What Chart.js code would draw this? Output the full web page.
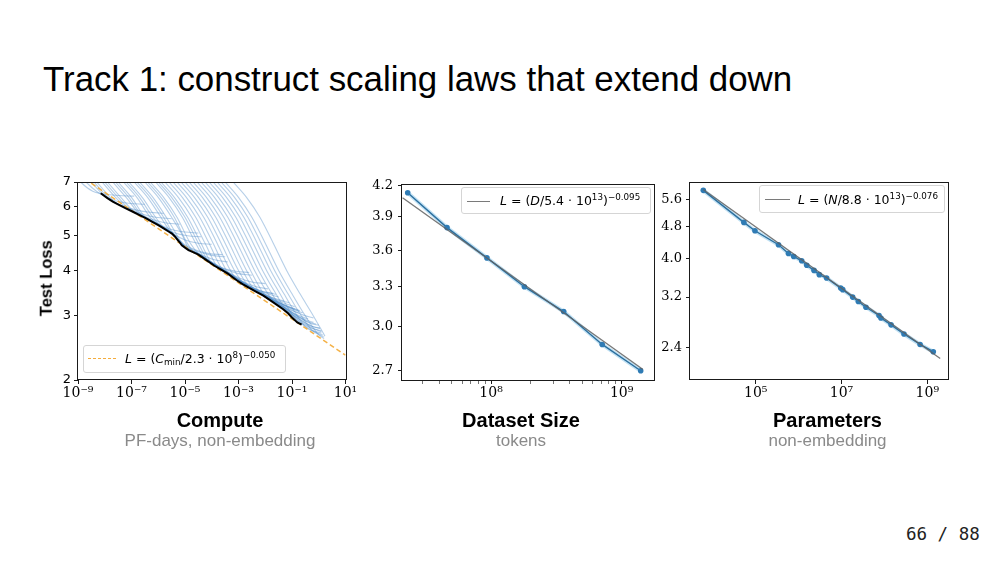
<!DOCTYPE html>
<html>
<head>
<meta charset="utf-8">
<title>Track 1: construct scaling laws that extend down</title>
<script src="https://cdn.jsdelivr.net/npm/chart.js@4.4.1/dist/chart.umd.min.js"></script>
<style>
html,body{margin:0;padding:0;background:#fff;}
body{width:1000px;height:563px;position:relative;overflow:hidden;font-family:"Liberation Sans",Arial,Helvetica,sans-serif;}
.a{position:absolute;white-space:nowrap;line-height:1;}
#title{left:43px;top:62px;font-size:34.9px;color:#000;}
.xl{font-weight:bold;font-size:20px;color:#000;text-align:center;width:240px;top:410px;}
.xs{font-size:17px;color:#8a8a8a;text-align:center;width:240px;top:431.5px;}
#ylab{font-weight:bold;font-size:16.5px;width:120px;text-align:center;left:-14.5px;top:270px;transform:rotate(-90deg);}
#page{left:906px;top:526px;font-family:"DejaVu Sans Mono",monospace;font-size:17.5px;color:#222;}
.cv{position:absolute;}
.leg{position:absolute;background:rgba(255,255,255,0.85);border:1px solid #d5d5d5;border-radius:3px;box-sizing:border-box;}
.leg .s{position:absolute;height:0;}
.leg .t{position:absolute;font-family:"DejaVu Sans",sans-serif;font-size:12.5px;line-height:1;white-space:nowrap;color:#000;}
.leg sup{font-size:70%;position:relative;top:-0.55em;vertical-align:baseline;line-height:0;}
.leg sub{font-size:70%;position:relative;top:0.22em;vertical-align:baseline;line-height:0;}
</style>
</head>
<body>
<div id="title" class="a">Track 1: construct scaling laws that extend down</div>

<canvas id="c1" class="cv" width="360" height="240" style="left:0px;top:170px;width:360px;height:240px;"></canvas>
<canvas id="c2" class="cv" width="320" height="240" style="left:350px;top:170px;width:320px;height:240px;"></canvas>
<canvas id="c3" class="cv" width="330" height="240" style="left:640px;top:170px;width:330px;height:240px;"></canvas>

<div class="leg" style="left:83px;top:345px;width:203px;height:28px;">
  <div class="s" style="left:4px;top:12px;width:28px;border-top:1.5px dashed rgba(243,168,50,0.95);"></div>
  <div class="t" style="left:41px;top:7px;"><i>L</i> = (<i>C</i><sub>min</sub>/2.3 · 10<sup>8</sup>)<sup>&minus;0.050</sup></div>
</div>
<div class="leg" style="left:461px;top:187px;width:190px;height:27px;">
  <div class="s" style="left:5px;top:13px;width:23px;border-top:1.5px solid #7a7a7a;"></div>
  <div class="t" style="left:38px;top:7px;"><i>L</i> = (<i>D</i>/5.4 · 10<sup>13</sup>)<sup>&minus;0.095</sup></div>
</div>
<div class="leg" style="left:759px;top:185px;width:186px;height:27.5px;">
  <div class="s" style="left:5px;top:13px;width:25px;border-top:1.5px solid #7a7a7a;"></div>
  <div class="t" style="left:38px;top:7.5px;"><i>L</i> = (<i>N</i>/8.8 · 10<sup>13</sup>)<sup>&minus;0.076</sup></div>
</div>

<div id="ylab" class="a">Test Loss</div>
<div class="a xl" style="left:100px;">Compute</div>
<div class="a xs" style="left:100px;">PF-days, non-embedding</div>
<div class="a xl" style="left:401px;">Dataset Size</div>
<div class="a xs" style="left:401px;">tokens</div>
<div class="a xl" style="left:707.5px;">Parameters</div>
<div class="a xs" style="left:707.5px;">non-embedding</div>
<div id="page" class="a">66 / 88</div>

<script>
// ---------------- data: Compute panel (x stored as log10 of PF-days) ----------------
const computeTicks = [1e-9, 1e-7, 1e-5, 1e-3, 1e-1, 1e1];
const computeLossTicks = [2, 3, 4, 5, 6, 7];
const computeFrontier = [
  [-8.15,6.52],[-7.9,6.32],[-7.7,6.18],[-7.45,6.05],[-7.23,5.93],[-6.95,5.8],[-6.7,5.68],[-6.45,5.56],
  [-6.24,5.45],[-6.0,5.33],[-5.8,5.22],[-5.6,5.11],[-5.49,5.05],[-5.38,4.96],[-5.3,4.88],[-5.2,4.78],
  [-5.12,4.69],[-5.0,4.62],[-4.87,4.55],[-4.7,4.49],[-4.5,4.42],[-4.2,4.27],[-3.9,4.12],[-3.65,4.02],
  [-3.4,3.92],[-3.07,3.76],[-2.85,3.67],[-2.6,3.58],[-2.35,3.5],[-2.07,3.41],[-1.7,3.27],[-1.33,3.13],
  [-1.15,3.05],[-1.0,2.97],[-0.8,2.88],[-0.64,2.84]
];
const computeFit = [[-9.0,7.35],[1.0,2.34]];
const trainingCurves = [
  [[-9.2,7.45],[-8.9,7.0],[-8.45,6.6],[-8.1,6.5],[-7.5,6.43],[-6.9,6.4]],
  [[-9.0,7.45],[-8.7,7.0],[-8.25,6.55],[-8.0,6.4],[-7.6,6.22],[-7.1,6.12],[-6.5,6.08]],
  [[-8.8,7.45],[-8.5,7.0],[-8.0,6.4],[-7.7,6.18],[-7.3,6.0],[-6.8,5.86],[-6.3,5.78],[-5.8,5.74]],
  [[-8.7,7.45],[-8.4,7.0],[-7.9,6.38],[-7.55,6.12],[-7.1,5.92],[-6.6,5.72],[-6.1,5.6],[-5.5,5.55]],
  [[-8.6,7.45],[-8.3,7.0],[-7.8,6.35],[-7.6,6.13],[-7.2,5.95],[-6.8,5.75],[-6.3,5.55],[-5.8,5.42],[-5.2,5.36]],
  [[-8.4,7.45],[-8.1,7.0],[-7.6,6.35],[-7.2,5.96],[-6.8,5.74],[-6.4,5.52],[-6.0,5.36],[-5.5,5.18],[-5.0,5.1],[-4.5,5.07]],
  [[-8.3,7.45],[-8.0,7.0],[-7.5,6.35],[-7.05,5.88],[-6.6,5.66],[-6.2,5.45],[-5.8,5.25],[-5.4,5.08],[-4.9,4.98],[-4.4,4.95]],
  [[-8.2,7.45],[-7.9,7.0],[-7.4,6.35],[-6.9,5.8],[-6.5,5.6],[-6.1,5.4],[-5.7,5.2],[-5.4,5.02],[-5.0,4.85],[-4.5,4.75],[-4.0,4.72]],
  [[-8.0,7.45],[-7.7,7.0],[-7.2,6.35],[-6.7,5.72],[-6.3,5.5],[-5.9,5.3],[-5.5,5.08],[-5.25,4.88],[-5.0,4.7],[-4.6,4.55],[-4.1,4.45],[-3.6,4.42]],
  [[-7.9,7.45],[-7.6,7.0],[-7.1,6.35],[-6.6,5.66],[-6.2,5.46],[-5.8,5.25],[-5.45,5.05],[-5.2,4.8],[-4.9,4.62],[-4.5,4.5],[-4.0,4.4],[-3.5,4.36]],
  [[-7.8,7.45],[-7.5,7.0],[-7.0,6.35],[-6.5,5.62],[-6.1,5.42],[-5.7,5.2],[-5.35,4.98],[-5.1,4.72],[-4.8,4.55],[-4.4,4.42],[-3.9,4.28],[-3.4,4.22]],
  [[-7.6,7.45],[-7.3,7.0],[-6.8,6.35],[-6.3,5.6],[-5.9,5.3],[-5.5,5.08],[-5.2,4.8],[-4.95,4.6],[-4.6,4.47],[-4.1,4.25],[-3.6,4.06],[-3.1,3.98],[-2.6,3.95]],
  [[-7.5,7.45],[-7.2,7.0],[-6.7,6.35],[-6.2,5.6],[-5.85,5.27],[-5.5,5.08],[-5.2,4.8],[-4.9,4.59],[-4.5,4.45],[-4.0,4.22],[-3.5,4.03],[-3.0,3.92],[-2.5,3.88]],
  [[-7.4,7.45],[-7.1,7.0],[-6.6,6.35],[-6.1,5.6],[-5.8,5.25],[-5.5,5.08],[-5.2,4.8],[-4.9,4.59],[-4.5,4.45],[-4.0,4.2],[-3.5,4.0],[-3.0,3.82],[-2.5,3.72],[-2.0,3.68]],
  [[-7.2,7.45],[-6.9,7.0],[-6.4,6.35],[-5.9,5.6],[-5.6,5.18],[-5.35,4.96],[-5.15,4.74],[-4.85,4.56],[-4.4,4.4],[-3.9,4.15],[-3.4,3.95],[-2.9,3.75],[-2.4,3.62],[-1.9,3.56]],
  [[-7.1,7.45],[-6.8,7.0],[-6.3,6.35],[-5.8,5.6],[-5.45,5.05],[-5.22,4.82],[-5.0,4.65],[-4.6,4.48],[-4.1,4.25],[-3.6,4.03],[-3.1,3.8],[-2.6,3.62],[-2.1,3.5],[-1.6,3.44]],
  [[-7.0,7.45],[-6.7,7.0],[-6.2,6.35],[-5.7,5.6],[-5.4,5.15],[-5.2,4.85],[-5.0,4.66],[-4.7,4.5],[-4.2,4.3],[-3.7,4.06],[-3.2,3.86],[-2.7,3.66],[-2.2,3.52],[-1.7,3.46]],
  [[-6.8,7.45],[-6.5,7.0],[-6.0,6.35],[-5.5,5.6],[-5.1,5.0],[-4.85,4.57],[-4.5,4.45],[-4.0,4.2],[-3.5,3.98],[-3.0,3.77],[-2.5,3.6],[-2.0,3.47],[-1.5,3.38]],
  [[-6.7,7.45],[-6.4,7.0],[-5.9,6.35],[-5.4,5.6],[-4.95,4.8],[-4.7,4.52],[-4.3,4.35],[-3.8,4.1],[-3.3,3.89],[-2.8,3.68],[-2.3,3.52],[-1.8,3.38],[-1.3,3.3]],
  [[-6.6,7.45],[-6.3,7.0],[-5.8,6.35],[-5.3,5.6],[-4.8,4.75],[-4.5,4.45],[-4.1,4.24],[-3.6,4.03],[-3.1,3.8],[-2.6,3.62],[-2.1,3.47],[-1.6,3.33],[-1.1,3.26]],
  [[-6.4,7.45],[-6.1,7.0],[-5.6,6.35],[-5.1,5.6],[-4.6,4.75],[-4.3,4.35],[-3.9,4.15],[-3.4,3.96],[-2.9,3.75],[-2.4,3.56],[-1.9,3.4],[-1.4,3.27],[-0.9,3.18]],
  [[-6.3,7.45],[-6.0,7.0],[-5.5,6.35],[-5.0,5.6],[-4.5,4.75],[-4.15,4.27],[-3.75,4.08],[-3.25,3.87],[-2.75,3.66],[-2.25,3.49],[-1.75,3.33],[-1.25,3.2],[-0.75,3.1]],
  [[-6.2,7.45],[-5.9,7.0],[-5.4,6.35],[-4.9,5.6],[-4.4,4.75],[-4.0,4.18],[-3.6,4.02],[-3.1,3.8],[-2.6,3.6],[-2.1,3.44],[-1.6,3.3],[-1.1,3.16],[-0.6,3.06]],
  [[-6.05,7.45],[-5.75,7.0],[-5.25,6.35],[-4.75,5.6],[-4.25,4.75],[-3.8,4.1],[-3.4,3.93],[-2.9,3.72],[-2.4,3.54],[-1.9,3.38],[-1.4,3.24],[-0.9,3.13]],
  [[-5.9,7.45],[-5.6,7.0],[-5.1,6.35],[-4.6,5.6],[-4.1,4.75],[-3.6,4.02],[-3.2,3.84],[-2.7,3.64],[-2.2,3.48],[-1.7,3.32],[-1.2,3.2],[-0.7,3.1]],
  [[-5.75,7.45],[-5.45,7.0],[-4.95,6.35],[-4.45,5.6],[-3.95,4.75],[-3.45,4.0],[-3.2,3.83],[-2.75,3.65],[-2.25,3.49],[-1.75,3.3],[-1.25,3.16],[-0.75,3.05]],
  [[-5.6,7.45],[-5.3,7.0],[-4.8,6.35],[-4.3,5.6],[-3.8,4.75],[-3.3,4.0],[-3.05,3.77],[-2.6,3.6],[-2.1,3.44],[-1.6,3.28],[-1.1,3.14],[-0.6,3.02],[-0.2,2.96]],
  [[-5.45,7.45],[-5.15,7.0],[-4.65,6.35],[-4.15,5.6],[-3.65,4.75],[-3.15,4.0],[-2.8,3.68],[-2.35,3.51],[-1.85,3.35],[-1.35,3.19],[-0.85,3.03],[-0.4,2.94]],
  [[-5.3,7.45],[-5.0,7.0],[-4.5,6.35],[-4.0,5.6],[-3.5,4.75],[-3.0,4.0],[-2.6,3.6],[-2.1,3.43],[-1.6,3.26],[-1.1,3.1],[-0.6,2.95],[-0.2,2.88]],
  [[-5.15,7.45],[-4.85,7.0],[-4.35,6.35],[-3.85,5.6],[-3.35,4.75],[-2.85,4.0],[-2.4,3.53],[-1.9,3.37],[-1.4,3.2],[-0.9,3.03],[-0.45,2.9],[-0.1,2.85]],
  [[-5.0,7.45],[-4.7,7.0],[-4.2,6.35],[-3.7,5.6],[-3.2,4.75],[-2.7,4.0],[-2.2,3.47],[-1.7,3.29],[-1.2,3.12],[-0.7,2.96],[-0.3,2.86],[0.0,2.83]],
  [[-4.85,7.45],[-4.55,7.0],[-4.05,6.35],[-3.55,5.6],[-3.05,4.75],[-2.55,4.0],[-2.05,3.45],[-1.55,3.24],[-1.05,3.05],[-0.6,2.9],[-0.2,2.8],[0.05,2.78]],
  [[-4.7,7.45],[-4.4,7.0],[-3.9,6.35],[-3.4,5.6],[-2.9,4.75],[-2.4,4.0],[-1.9,3.45],[-1.7,3.29],[-1.2,3.1],[-0.7,2.93],[-0.3,2.82],[0.05,2.77]],
  [[-4.55,7.45],[-4.25,7.0],[-3.75,6.35],[-3.25,5.6],[-2.75,4.75],[-2.25,4.0],[-1.75,3.45],[-1.45,3.2],[-1.0,3.02],[-0.55,2.86],[-0.15,2.76],[0.1,2.73]],
  [[-4.4,7.45],[-4.1,7.0],[-3.6,6.35],[-3.1,5.6],[-2.6,4.75],[-2.1,4.0],[-1.6,3.45],[-1.2,3.1],[-0.8,2.92],[-0.4,2.8],[0.0,2.73],[0.1,2.71]],
  [[-4.25,7.45],[-3.95,7.0],[-3.45,6.35],[-2.95,5.6],[-2.45,4.75],[-1.95,4.0],[-1.45,3.45],[-1.0,3.03],[-0.65,2.86],[-0.25,2.74],[0.1,2.69]],
  [[-4.1,7.45],[-3.8,7.0],[-3.3,6.35],[-2.8,5.6],[-2.3,4.75],[-1.8,4.0],[-1.3,3.45],[-0.8,3.0],[-0.5,2.8],[-0.1,2.7],[0.15,2.66]],
  [[-3.95,7.45],[-3.65,7.0],[-3.15,6.35],[-2.65,5.6],[-2.15,4.75],[-1.65,4.0],[-1.15,3.45],[-0.65,3.0],[-0.25,2.74],[0.18,2.63]],
  [[-3.8,7.45],[-3.5,7.0],[-3.0,6.35],[-2.5,5.6],[-2.0,4.75],[-1.5,4.0],[-1.0,3.45],[-0.5,3.0],[0.0,2.66],[0.2,2.6]],
  [[-3.5,7.45],[-3.2,7.0],[-2.7,6.35],[-2.2,5.6],[-1.7,4.75],[-1.2,4.0],[-0.7,3.45],[-0.2,3.0],[0.23,2.64]]
];

// ---------------- data: Dataset Size panel ----------------
const datasetTokens = [2.3e7, 4.6e7, 9.3e7, 1.8e8, 3.6e8, 7.1e8, 1.4e9];
const datasetLoss   = [4.13, 3.80, 3.535, 3.30, 3.11, 2.875, 2.70];
const datasetFitTokens = [2.1e7, 1.45e9];
const datasetFitLoss   = [4.08, 2.71];
const datasetXTicks = [1e8, 1e9];
const datasetXMinorTicks = [3e7,4e7,5e7,6e7,7e7,8e7,9e7,2e8,3e8,4e8,5e8,6e8,7e8,8e8,9e8];
const datasetYTicks = [2.7, 3.0, 3.3, 3.6, 3.9, 4.2];

// ---------------- data: Parameters panel ----------------
const paramCount = [6.0e3, 5.3e4, 9.6e4, 3.4e5, 5.8e5, 7.7e5, 1.18e6, 1.55e6, 2.29e6, 3.04e6, 4.5e6,
                    9.6e6, 1.07e7, 1.82e7, 2.47e7, 3.72e7, 7.5e7, 8.3e7, 1.43e8, 2.86e8, 6.8e8, 1.38e9];
const paramLoss  = [5.90, 4.91, 4.68, 4.32, 4.11, 4.04, 3.94, 3.84, 3.73, 3.64, 3.57,
                    3.37, 3.34, 3.20, 3.12, 3.02, 2.88, 2.84, 2.73, 2.59, 2.44, 2.34];
const paramFitCount = [6.0e3, 2.0e9];
const paramFitLoss  = [5.93, 2.25];
const paramXTicks = [1e5, 1e7, 1e9];
const paramYTicks = [2.4, 3.2, 4.0, 4.8, 5.6];

// ---------------- helpers ----------------
const SUP = {'-':'\u207B','0':'\u2070','1':'\u00B9','2':'\u00B2','3':'\u00B3','4':'\u2074','5':'\u2075','6':'\u2076','7':'\u2077','8':'\u2078','9':'\u2079'};
function powLabel(v){ const e = Math.round(Math.log10(v)); return '10' + String(e).split('').map(c => SUP[c]).join(''); }
const logPts = arr => arr.map(p => ({x: Math.pow(10, p[0]), y: p[1]}));
const zipPts = (xs, ys) => xs.map((x, i) => ({x: x, y: ys[i]}));

const boxPlugin = {
  id: 'axbox',
  afterDatasetsDraw(chart){
    const {ctx, chartArea: a} = chart;
    ctx.save();
    ctx.strokeStyle = '#1a1a1a';
    ctx.lineWidth = 1;
    ctx.strokeRect(Math.round(a.left) - 0.5, Math.round(a.top) + 0.5, Math.round(a.right - a.left) + 1, Math.round(a.bottom - a.top) - 1);
    ctx.restore();
  }
};

function makeScale(o){
  return {
    type: 'logarithmic', min: o.min, max: o.max,
    afterFit: s => { if (o.w !== undefined) s.width = o.w; if (o.h !== undefined) s.height = o.h; },
    afterBuildTicks: s => { s.ticks = o.ticks.map(v => ({value: v})); },
    ticks: { autoSkip: false, maxRotation: 0, minRotation: 0, padding: o.pad, color: '#000',
             font: {family: o.family, size: o.size || 13}, callback: o.label },
    grid: { display: true, drawOnChartArea: false, drawTicks: true, tickLength: 4,
            color: '#1a1a1a', tickColor: '#1a1a1a',
            tickWidth: o.minor ? (c => (o.minor.includes(c.tick && c.tick.value) ? 0.6 : 1)) : 1 },
    border: { display: false }
  };
}

function makeChart(id, datasets, pad, xs, ys){
  return new Chart(document.getElementById(id), {
    type: 'line',
    data: { datasets },
    options: {
      responsive: false, animation: false, events: [],
      layout: { padding: pad },
      plugins: { legend: { display: false }, tooltip: { enabled: false } },
      elements: { line: { tension: 0 } },
      scales: { x: makeScale(xs), y: makeScale(ys) }
    },
    plugins: [boxPlugin]
  });
}

// ---------------- Compute panel ----------------
makeChart('c1', [
  { data: logPts(computeFrontier), borderColor: '#000', borderWidth: 2, pointRadius: 0 },
  { data: logPts(computeFit), borderColor: 'rgba(243,168,50,0.9)', borderWidth: 1.5, borderDash: [5, 3], pointRadius: 0 },
  ...trainingCurves.map(c => ({ data: logPts(c), borderColor: 'rgba(80,140,200,0.42)', borderWidth: 1.1, pointRadius: 0, cubicInterpolationMode: 'monotone' }))
], {top: 12, right: 14.5, left: 0, bottom: 0},
  { min: 1e-9, max: 1e1, ticks: computeTicks, label: v => powLabel(v), family: 'DejaVu Serif', size: 14, pad: 1, h: 30 },
  { min: 2, max: 7, ticks: computeLossTicks, label: v => String(v), family: 'DejaVu Sans', pad: 3, w: 78 });

// ---------------- Dataset Size panel ----------------
const allDatasetX = datasetXMinorTicks.concat(datasetXTicks).sort((a, b) => a - b);
makeChart('c2', [
  { data: zipPts(datasetFitTokens, datasetFitLoss), borderColor: 'rgba(95,95,95,0.85)', borderWidth: 1.3, pointRadius: 0 },
  { data: zipPts(datasetTokens, datasetLoss), borderColor: '#2c6f9e', borderWidth: 1.4, pointRadius: 2.8, pointBackgroundColor: '#2f7bb4', pointBorderWidth: 0 },
  { data: zipPts(datasetTokens, datasetLoss), borderColor: 'rgba(120,190,230,0.45)', borderWidth: 4, pointRadius: 0 }
], {top: 13.5, right: 16, left: 0, bottom: 0},
  { min: 2.08e7, max: 1.77e9, ticks: allDatasetX, minor: datasetXMinorTicks,
    label: v => (datasetXTicks.includes(v) ? powLabel(v) : ''), family: 'DejaVu Serif', size: 14, pad: 1, h: 30 },
  { min: 2.641, max: 4.222, ticks: datasetYTicks, label: v => v.toFixed(1), family: 'DejaVu Serif', pad: 5, w: 52 });

// ---------------- Parameters panel ----------------
makeChart('c3', [
  { data: zipPts(paramFitCount, paramFitLoss), borderColor: 'rgba(95,95,95,0.85)', borderWidth: 1.3, pointRadius: 0 },
  { data: zipPts(paramCount, paramLoss), borderColor: '#2c6f9e', borderWidth: 1.4, pointRadius: 2.8, pointBackgroundColor: '#2f7bb4', pointBorderWidth: 0 },
  { data: zipPts(paramCount, paramLoss), borderColor: 'rgba(120,190,230,0.45)', borderWidth: 4, pointRadius: 0 }
], {top: 12, right: 22, left: 0, bottom: 0},
  { min: 2.94e3, max: 3.04e9, ticks: paramXTicks, label: v => powLabel(v), family: 'DejaVu Serif', size: 14, pad: 1, h: 30 },
  { min: 1.99, max: 6.19, ticks: paramYTicks, label: v => v.toFixed(1), family: 'DejaVu Serif', pad: 4, w: 50 });
</script>
</body>
</html>
